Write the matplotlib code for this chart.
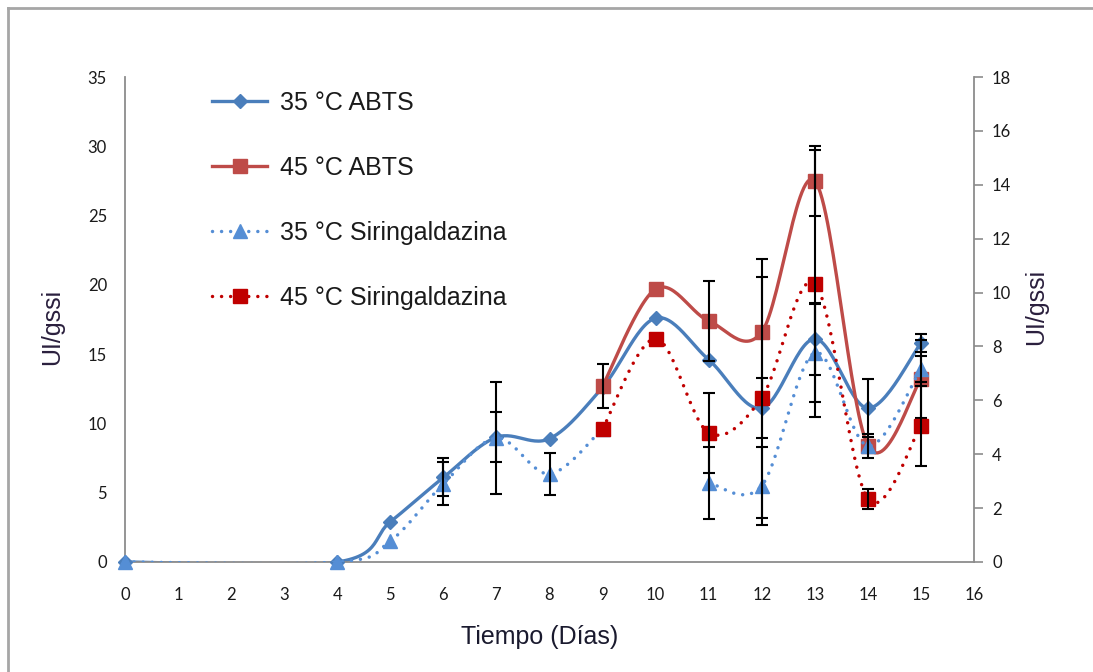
import numpy as np
import matplotlib.pyplot as plt
from matplotlib.lines import Line2D

# Actividad lacasa (UI/gssi) por dia; ABTS eje izquierdo, siringaldazina eje derecho
dias = [0, 4, 5, 6, 7, 8, 9, 10, 11, 12, 13, 14, 15]
nan = np.nan

abts_35 = [0, 0, 2.9, 6.1, 9.0, 8.9, 12.6, 17.6, 14.6, 11.1, 16.1, 11.1, 15.8]
abts_45 = [nan, nan, nan, nan, nan, nan, 12.7, 19.7, 17.4, 16.6, 27.5, 8.4, 13.2]
sir_35 = [0, 0, 0.78, 2.9, 4.6, 3.27, 4.95, nan, 2.94, 2.83, 7.77, 4.31, 7.17]
sir_45 = [nan, nan, nan, nan, nan, nan, 4.94, 8.29, 4.8, 6.1, 10.33, 2.34, 5.06]

err_abts_35 = [0, 0, 0, 1.37, 1.8, 0, 0, 0, 0, 2.17, 2.6, 2.1, 0.65]
err_abts_45 = [0, 0, 0, 0, 0, 0, 1.6, 0, 2.9, 5.3, 2.5, 0, 2.8]
err_sir_35 = [0, 0, 0, 0.8, 2.08, 0.78, 0, 0, 1.34, 1.45, 1.82, 0.45, 0.48]
err_sir_45 = [0, 0, 0, 0, 0, 0, 0, 0, 1.49, 4.46, 4.95, 0.37, 1.49]

azul = '#4A7EBB'
azul_claro = '#558ED5'
rojo = '#BE4B48'
rojo_osc = '#C00000'
gris = '#8C8C8C'
W, H = 1093, 672


def suavizar(x, y, n=30):
    # curva tipo Catmull-Rom (lineas suavizadas de Excel), cortada en huecos
    x = np.asarray(x, float)
    y = np.asarray(y, float)
    tramos = []
    ok = ~np.isnan(y)
    i = 0
    while i < len(y):
        if not ok[i]:
            i += 1
            continue
        j = i
        while j + 1 < len(y) and ok[j + 1]:
            j += 1
        tramos.append((x[i:j + 1], y[i:j + 1]))
        i = j + 1
    xs_all, ys_all = [], []
    for px, py in tramos:
        if len(px) == 1:
            continue
        P = np.column_stack([px, py])
        for k in range(len(P) - 1):
            p0 = P[k - 1] if k > 0 else P[k]
            p1 = P[k]
            p2 = P[k + 1]
            p3 = P[k + 2] if k + 2 < len(P) else P[k + 1]
            b1 = p1 + (p2 - p0) / 6
            b2 = p2 - (p3 - p1) / 6
            t = np.linspace(0, 1, n)[:, None]
            c = ((1 - t) ** 3) * p1 + 3 * ((1 - t) ** 2) * t * b1 + 3 * (1 - t) * t ** 2 * b2 + t ** 3 * p2
            xs_all.extend(c[:, 0]); ys_all.extend(c[:, 1])
        xs_all.append(nan); ys_all.append(nan)
    return np.array(xs_all), np.array(ys_all)


def barras(ax, x, y, e, z):
    x = np.asarray(x, float); y = np.asarray(y, float); e = np.asarray(e, float)
    m = (e > 0) & ~np.isnan(y)
    ax.errorbar(x[m], y[m], yerr=e[m], fmt='none', ecolor='black', elinewidth=1.5,
                capsize=4, capthick=1.5, zorder=z)


fig = plt.figure(figsize=(W / 100, H / 100), dpi=100)
ax = fig.add_axes([125 / W, 1 - 562 / H, (974 - 125) / W, (562 - 77) / H])
ax2 = ax.twinx()

# marco exterior del grafico
fig.add_artist(Line2D([8 / W, 1], [1 - 8 / H, 1 - 8 / H], color='#A6A6A6', lw=2))
fig.add_artist(Line2D([8 / W, 8 / W], [0, 1 - 8 / H], color='#A6A6A6', lw=2))

# ABTS (eje primario)
sx, sy = suavizar(dias, abts_35)
ax.plot(sx, sy, color=azul, lw=2.4, zorder=2)
ax.plot(dias, abts_35, 'D', color=azul, ms=7, zorder=3, clip_on=False)
barras(ax, dias, abts_35, err_abts_35, 4)

sx, sy = suavizar(dias, abts_45)
ax.plot(sx, sy, color=rojo, lw=2.4, zorder=2)
ax.plot(dias, abts_45, 's', color=rojo, ms=10.5, zorder=3, clip_on=False)
barras(ax, dias, abts_45, err_abts_45, 4)

# Siringaldazina (eje secundario)
punteado = (0, (0.01, 2.6))
sx, sy = suavizar(dias, sir_35)
ax2.plot(sx, sy, color=azul_claro, lw=2.5, linestyle=punteado, dash_capstyle='round', zorder=2)
ax2.plot(dias, sir_35, '^', color=azul_claro, ms=10, zorder=3, clip_on=False)
barras(ax2, dias, sir_35, err_sir_35, 4)

sx, sy = suavizar(dias, sir_45)
ax2.plot(sx, sy, color=rojo_osc, lw=2.5, linestyle=punteado, dash_capstyle='round', zorder=2)
ax2.plot(dias, sir_45, 's', color=rojo_osc, ms=9.5, zorder=3, clip_on=False)
barras(ax2, dias, sir_45, err_sir_45, 4)

ax.set_xlim(0, 16)
ax.set_ylim(0, 35)
ax2.set_ylim(0, 18)
ax.set_xticks(range(0, 17))
ax.set_yticks(range(0, 36, 5))
ax2.set_yticks(range(0, 19, 2))

for a in (ax, ax2):
    for s in a.spines.values():
        s.set_color(gris)
        s.set_linewidth(1.3)
    a.spines['top'].set_visible(False)
ax.spines['right'].set_visible(False)
ax2.spines['left'].set_visible(False)
ax2.spines['bottom'].set_visible(False)

ax.tick_params(axis='x', length=0, pad=18, labelsize=12, labelcolor='#1a1a1a')
ax.tick_params(axis='y', length=0, pad=13, labelsize=12, labelcolor='#1a1a1a')
ax2.tick_params(axis='y', length=6.5, width=1.2, color=gris, pad=6.5, labelsize=12, labelcolor='#1a1a1a')
for lab in ax.get_xticklabels() + ax.get_yticklabels() + ax2.get_yticklabels():
    lab.set_fontfamily('Lato')

ax.set_xlabel('Tiempo (Días)', fontsize=18, family='Liberation Sans', color='#1a1a2e')
ax.xaxis.set_label_coords(540 / W, 1 - 637 / H, transform=fig.transFigure)
ax.xaxis.label.set_va('center')
ax.set_ylabel('UI/gssi', fontsize=18, family='Liberation Sans', color='#2a1f3d')
ax.yaxis.set_label_coords(52 / W, 1 - 327 / H, transform=fig.transFigure)
ax.yaxis.label.set_va('center')
ax2.set_ylabel('UI/gssi', fontsize=18, family='Liberation Sans', color='#2a1f3d')
ax2.yaxis.set_label_coords(1036 / W, 1 - 307 / H, transform=fig.transFigure)
ax2.yaxis.label.set_va('center')

manejadores = [
    Line2D([], [], color=azul, lw=2.4, marker='D', ms=7),
    Line2D([], [], color=rojo, lw=2.4, marker='s', ms=10.5),
    Line2D([], [], color=azul_claro, lw=2.5, linestyle=punteado, dash_capstyle='round', marker='^', ms=10),
    Line2D([], [], color=rojo_osc, lw=2.5, linestyle=punteado, dash_capstyle='round', marker='s', ms=9.5),
]
etiquetas = ['35 °C ABTS', '45 °C ABTS', '35 °C Siringaldazina', '45 °C Siringaldazina']
leg = ax2.legend(manejadores, etiquetas, loc='upper left',
                 bbox_to_anchor=(212 / W, 1 - 91 / H), bbox_transform=fig.transFigure,
                 frameon=False, borderpad=0, borderaxespad=0, handlelength=2.2,
                 handletextpad=0.5, labelspacing=1.64,
                 prop={'family': 'Liberation Sans', 'size': 18})
for t in leg.get_texts():
    t.set_color('#1a1a1a')

fig.savefig('out.png', dpi=100)
